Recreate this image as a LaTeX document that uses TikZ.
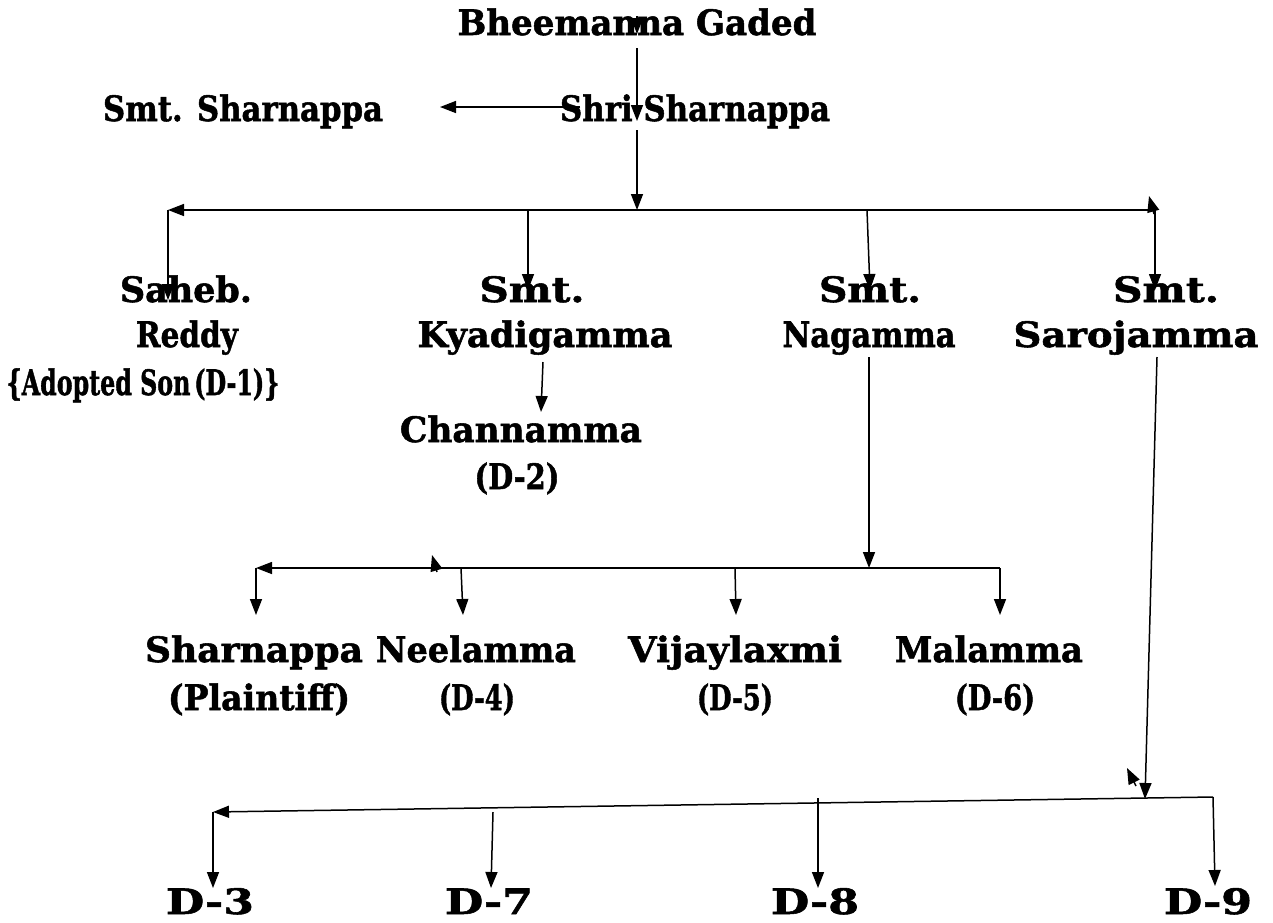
\documentclass[tikz,border=0pt]{standalone}
\usepackage{fontspec}
\usepackage{graphicx}
\newfontfamily\lblfont{DejaVu Serif Bold}[FakeBold=1.5]
\newcommand\fw[2]{\resizebox{#1pt}{\height}{#2}}
\usetikzlibrary{arrows.meta}
\begin{document}
\begin{tikzpicture}[x=1pt,y=-1pt,
  lbl/.style={anchor=base,inner sep=0pt,font=\fontsize{35}{40}\lblfont},
  conn/.style={line width=1.5pt,-{Triangle[length=16pt,width=12pt]}}]
\useasboundingbox[fill=white] (0,0) rectangle (1273,922);
% names
\node[lbl] (bheem) at (637,35) {\fw{359}{Bheemanna Gaded}};
\node[lbl] (smtsh) at (243,121) {\fw{280}{Smt. Sharnappa}};
\node[lbl] (shri) at (695,121) {\fw{270}{Shri Sharnappa}};
\node[lbl] (sahebA) at (186,302) {\fw{132}{Saheb.}};
\node[lbl] (sahebB) at (187,347) {\fw{102}{Reddy}};
\node[lbl] (sahebC) at (143,395) {\fw{273}{\{Adopted Son\,(D-1)\}}};
\node[lbl] (kyaA) at (532,302) {\fw{105}{Smt.}};
\node[lbl] (kyaB) at (545,347) {\fw{255}{Kyadigamma}};
\node[lbl] (chanA) at (521,442) {\fw{242}{Channamma}};
\node[lbl] (chanB) at (517,489) {\fw{85}{(D-2)}};
\node[lbl] (nagA) at (870,302) {\fw{102}{Smt.}};
\node[lbl] (nagB) at (869,347) {\fw{173}{Nagamma}};
\node[lbl] (saroA) at (1166,302) {\fw{106}{Smt.}};
\node[lbl] (saroB) at (1136,347) {\fw{245}{Sarojamma}};
\node[lbl] (sharA) at (254,662) {\fw{218}{Sharnappa}};
\node[lbl] (sharB) at (259,710) {\fw{182}{(Plaintiff)}};
\node[lbl] (neelA) at (476,662) {\fw{200}{Neelamma}};
\node[lbl] (neelB) at (477,710) {\fw{76}{(D-4)}};
\node[lbl] (vijA) at (735,662) {\fw{214}{Vijaylaxmi}};
\node[lbl] (vijB) at (735,710) {\fw{76}{(D-5)}};
\node[lbl] (malA) at (989,662) {\fw{188}{Malamma}};
\node[lbl] (malB) at (995,710) {\fw{80}{(D-6)}};
\node[lbl] (dthree) at (210,914) {\fw{88}{D-3}};
\node[lbl] (dseven) at (489,914) {\fw{88}{D-7}};
\node[lbl] (deight) at (815,914) {\fw{88}{D-8}};
\node[lbl] (dnine) at (1208,914) {\fw{88}{D-9}};
% junction coordinates
\coordinate (b0) at (637,16);
\coordinate (b1) at (637,34);
\coordinate (b2) at (637,48);
\coordinate (b3) at (637,121);
\coordinate (s0) at (580,107);
\coordinate (s1) at (440,107);
\coordinate (s2) at (637,130);
\coordinate (h1) at (637,210);
\coordinate (h1L) at (168,210);
\coordinate (h1R) at (1155,210);
\coordinate (h1a) at (528,210);
\coordinate (h1b) at (867,210);
\coordinate (t1) at (168,300);
\coordinate (t2) at (528,290);
\coordinate (t3) at (870,290);
\coordinate (t4) at (1155,290);
\coordinate (x1a) at (1154,214);
\coordinate (x1b) at (1149,196);
\coordinate (k0) at (543,362);
\coordinate (k1) at (541,412);
\coordinate (n0) at (869,357);
\coordinate (h2) at (869,568);
\coordinate (h2L) at (256,568);
\coordinate (h2R) at (1000,568);
\coordinate (h2a) at (461,568);
\coordinate (h2b) at (735,568);
\coordinate (u1) at (256,615);
\coordinate (u2) at (463,615);
\coordinate (u3) at (736,615);
\coordinate (u4) at (1000,615);
\coordinate (x2a) at (437,572);
\coordinate (x2b) at (432,555);
\coordinate (r0) at (1157,357);
\coordinate (h3) at (1145,799);
\coordinate (x3a) at (1136,786);
\coordinate (x3b) at (1127,768);
\coordinate (h3R) at (1213,797);
\coordinate (h3L) at (213,812);
\coordinate (h3a) at (818,798);
\coordinate (h3b) at (493,812);
\coordinate (v1) at (213,888);
\coordinate (v2) at (491,888);
\coordinate (v3) at (818,888);
\coordinate (v4) at (1215,886);
% connectors
\draw[conn] (b0) -- (b1);
\draw[conn] (b2) -- (b3);
\draw[conn] (s0) -- (s1);
\draw[conn] (s2) -- (h1);
\draw[conn] (h1R) -- (h1L);
\draw[conn] (h1L) -- (t1);
\draw[conn] (h1a) -- (t2);
\draw[conn] (h1b) -- (t3);
\draw[conn] (h1R) -- (t4);
\draw[conn] (x1a) -- (x1b);
\draw[conn] (k0) -- (k1);
\draw[conn] (n0) -- (h2);
\draw[conn] (h2R) -- (h2L);
\draw[conn] (h2L) -- (u1);
\draw[conn] (h2a) -- (u2);
\draw[conn] (h2b) -- (u3);
\draw[conn] (h2R) -- (u4);
\draw[conn] (x2a) -- (x2b);
\draw[conn] (r0) -- (h3);
\draw[conn] (x3a) -- (x3b);
\draw[conn] (h3R) -- (h3L);
\draw[conn] (h3L) -- (v1);
\draw[conn] (h3b) -- (v2);
\draw[conn] (h3a) -- (v3);
\draw[conn] (h3R) -- (v4);
\end{tikzpicture}
\end{document}
